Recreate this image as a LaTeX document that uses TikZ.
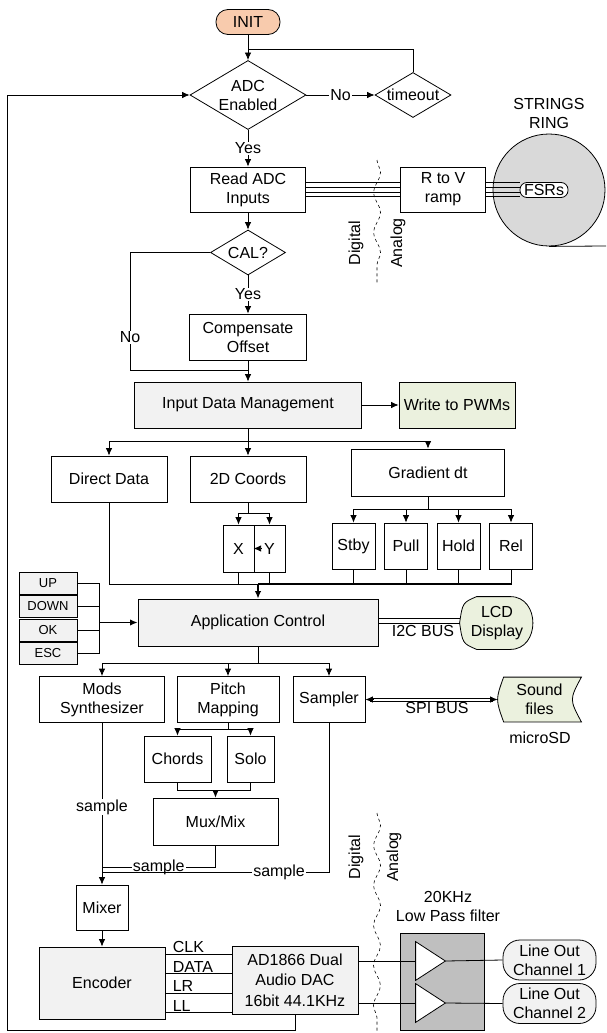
\documentclass[tikz,border=0pt]{standalone}
\usepackage{fontspec}
\setmainfont{Liberation Sans}
\usetikzlibrary{arrows.meta,shapes.geometric,decorations.pathmorphing}
\definecolor{initfill}{HTML}{F8CBAD}
\definecolor{boxgray}{HTML}{F2F2F2}
\definecolor{boxgreen}{HTML}{EBF1DE}
\definecolor{ringgray}{HTML}{D9D9D9}
\definecolor{filtgray}{HTML}{BFBFBF}

\begin{document}
\begin{tikzpicture}[x=1pt,y=-1pt,>={Latex[length=7.5pt,width=6.5pt]},line width=0.8pt,
    font=\fontsize{16}{19}\selectfont,
    box/.style={draw,fill=white,align=center,inner sep=0pt},
    dec/.style={draw,diamond,fill=white,align=center,inner sep=-5pt},
    sq/.style={box,minimum width=43pt,minimum height=46pt},
    btn/.style={box,fill=boxgray,minimum width=58pt,minimum height=22pt,font=\fontsize{13}{15}\selectfont},
    pill/.style={box,fill=boxgray,rounded corners=17pt,minimum width=93pt,minimum height=40pt},
    lbl/.style={fill=white,inner sep=1pt},
    bus/.style={line width=0.6pt},
    bound/.style={dashed,line width=0.6pt,decorate,decoration={snake,amplitude=3.5pt,segment length=40pt}}]
  \useasboundingbox (0,0) rectangle (606,1033);

  \node[box,fill=initfill,rounded corners=12pt,minimum width=64pt,minimum height=25pt] (init) at (248,22) {INIT};
  \node[dec,minimum width=116pt,minimum height=64pt] (adc) at (248,95) {ADC\\Enabled};
  \node[dec,minimum width=76pt,minimum height=45pt] (timeout) [right of=adc,node distance=165pt] {timeout};
  \node[box,minimum width=115pt,minimum height=45pt] (readadc) at (248,189.5) {Read ADC\\Inputs};
  \node[box,minimum width=85pt,minimum height=45pt] (rtov) [right of=readadc,node distance=195pt] {R to V\\ramp};
  \node[circle,draw,fill=ringgray,minimum size=112pt,inner sep=0pt] (ring) at (549,190) {};
  \node[align=center] (ringtxt) at (549,113) {STRINGS\\RING};
  \node[box,rounded corners=7pt,minimum width=48pt,minimum height=15pt] (fsr) at (544,190) {FSRs};
  \node[dec,minimum width=75pt,minimum height=45pt] (cal) at (248,252.5) {CAL?};
  \node[box,minimum width=117pt,minimum height=46pt] (comp) at (248,337) {Compensate\\Offset};
  \node[box,fill=boxgray,minimum width=227pt,minimum height=46pt] (idm) at (248,405) {Input Data Management};
  \node[box,fill=boxgreen,minimum width=116pt,minimum height=46pt] (pwm) [right of=idm,node distance=209pt] {Write to PWMs};
  \node[box,minimum width=116pt,minimum height=46pt] (direct) at (109,479) {Direct Data};
  \node[box,minimum width=116pt,minimum height=46pt] (coords) at (248,479) {2D Coords};
  \node[box,minimum width=153pt,minimum height=47pt] (gradient) at (428,472.5) {Gradient dt};
  \node[box,minimum width=31pt,minimum height=47pt] (xbox) at (238.5,548.5) {X};
  \node[box,minimum width=31pt,minimum height=47pt] (ybox) [right of=xbox,node distance=31pt] {Y};
  \node[sq] (stby) at (353.5,546) {Stby};
  \node[sq] (pull) [right of=stby,node distance=52.5pt] {Pull};
  \node[sq] (hold) [right of=pull,node distance=52.5pt] {Hold};
  \node[sq] (rel) [right of=hold,node distance=52.5pt] {Rel};
  \node[box,fill=boxgray,minimum width=240pt,minimum height=47pt] (ac) at (258,622.5) {Application Control};
  \node[btn] (up) at (48,583) {UP};
  \node[btn] (down) [below of=up,node distance=23.5pt] {DOWN};
  \node[btn] (ok) [below of=down,node distance=23.5pt] {OK};
  \node[btn] (esc) [below of=ok,node distance=23.5pt] {ESC};
  \node[minimum width=74pt,minimum height=52pt,inner sep=0pt] (lcd) at (497,623) {};
  \node[box,minimum width=125pt,minimum height=46pt] (mods) at (102,699.5) {Mods\\Synthesizer};
  \node[box,minimum width=102pt,minimum height=46pt] (pitch) at (228,699.5) {Pitch\\Mapping};
  \node[box,minimum width=72pt,minimum height=46pt] (sampler) at (329,699.5) {Sampler};
  \node[minimum width=83pt,minimum height=44pt,inner sep=0pt] (sound) at (539.5,699.5) {};
  \node (microsd) at (540,738) {microSD};
  \node[box,minimum width=67pt,minimum height=46pt] (chords) at (177.5,759) {Chords};
  \node[box,minimum width=47pt,minimum height=46pt] (solo) at (250.5,759) {Solo};
  \node[box,minimum width=125pt,minimum height=47pt] (mux) at (215.5,821.5) {Mux/Mix};
  \node[box,minimum width=52pt,minimum height=45pt] (mixer) at (102,907.5) {Mixer};
  \node[box,fill=boxgray,minimum width=126pt,minimum height=72pt] (enc) at (102,983) {Encoder};
  \node[box,fill=boxgray,minimum width=126pt,minimum height=68pt,font=\fontsize{16}{20.5}\selectfont] (dac) at (295,980) {AD1866 Dual\\Audio DAC\\16bit 44.1KHz};
  \node[align=center] (filtlbl) at (448,906) {20KHz\\Low Pass filter};
  \node[draw,fill=filtgray,minimum width=84pt,minimum height=97pt] (filter) at (442,981.5) {};
  \node[minimum width=29pt,minimum height=38pt,inner sep=0pt] (amp1) at (430.5,961) {};
  \node[minimum width=29pt,minimum height=38pt,inner sep=0pt] (amp2) [below of=amp1,node distance=42pt] {};
  \node[pill] (lo1) at (549.5,960) {Line Out\\Channel 1};
  \node[pill] (lo2) [below of=lo1,node distance=43.5pt] {Line Out\\Channel 2};
  \node[rotate=90] (dig1) at (356,243) {Digital};
  \node[rotate=90] (ana1) at (398,243) {Analog};
  \node[rotate=90] (dig2) at (356,857) {Digital};
  \node[rotate=90] (ana2) at (394,857) {Analog};
  \node (i2clbl) at (423,631) {I2C BUS};
  \node (spilbl) at (437,708) {SPI BUS};

  \draw[fill=boxgreen] ([xshift=17pt]lcd.north west) -- ([xshift=-24pt]lcd.north east)
    .. controls ([xshift=6pt]lcd.north east) and ([xshift=6pt]lcd.south east) .. ([xshift=-24pt]lcd.south east)
    -- ([xshift=17pt]lcd.south west)
    .. controls ([xshift=3pt,yshift=6pt]lcd.south west) .. (lcd.west)
    .. controls ([xshift=3pt,yshift=-6pt]lcd.north west) .. cycle;
  \node[align=center] at (lcd) {LCD\\Display};
  \draw[fill=boxgreen] ([xshift=6pt]sound.north west) -- (sound.north east)
    .. controls ([xshift=-12pt]sound.east) .. (sound.south east)
    -- ([xshift=6pt]sound.south west)
    .. controls ([xshift=-2pt]sound.west) .. cycle;
  \node[align=center] at (sound) {Sound\\files};
  \draw[fill=white] (amp1.north west) -- (amp1.east) -- (amp1.south west) -- cycle;
  \draw[fill=white] (amp2.north west) -- (amp2.east) -- (amp2.south west) -- cycle;

  \coordinate (tjoin) at (248,49);
  \coordinate (njoin) at (130,370);
  \coordinate (cjoin) at (248,370);
  \coordinate (isplit) at (248,441.5);
  \coordinate (xysplit) at (248,513);
  \coordinate (gsplit) at (428,509);
  \coordinate (acjoin) at (258,584);
  \coordinate (bbus) at (99,622.5);
  \coordinate (asplit) at (258,663);
  \coordinate (psplit) at (228,729);
  \coordinate (mjoin) at (215.5,790);
  \coordinate (mxj) at (102,867);
  \coordinate (spj) at (102,872);
  \coordinate (fbcorner) at (7,1030);
  \coordinate (tapeend) at (606,246);
  \coordinate (wv1a) at (377,160);
  \coordinate (wv1b) at (377,283);
  \coordinate (wv2a) at (377,813);
  \coordinate (wv2b) at (377,1033);
  \coordinate (i2cend) at (ac.east -| lcd.west);
  \coordinate (spiend) at (sampler.east -| sound.west);

  \draw[->] (init) -- (adc);
  \draw[->] (adc) -- node[lbl] {No} (timeout);
  \draw (timeout.north) |- (tjoin);
  \draw[->] (adc) -- node[lbl] {Yes} (readadc);
  \foreach \d in {-7,-2.3,2.3,7}{
    \draw[bus] ([yshift=\d pt]readadc.east) -- ([yshift=\d pt]rtov.west);
    \draw[bus] ([yshift=\d pt]rtov.east) -- ([yshift=\d pt]rtov.east -| fsr.west);
  }
  \draw (ring.south) -- (tapeend);
  \draw[bound] (wv1a) -- (wv1b);
  \draw[->] (readadc) -- (cal);
  \draw[->] (cal) -- node[lbl] {Yes} (comp);
  \draw (cal.west) -| node[lbl,pos=0.86] {No} (njoin) -- (cjoin);
  \draw[->] (comp) -- (idm);
  \draw[->] (idm) -- (pwm);
  \draw[->] (idm) -- (coords);
  \draw[->] (isplit) -| (direct.north);
  \draw[->] (isplit) -| (gradient.north);
  \draw (coords.south) -- (xysplit);
  \draw[->] (xysplit) -| (xbox.north);
  \draw[->] (xysplit) -| (ybox.north);
  \draw[->] ([xshift=7pt]ybox.west) -- (ybox.west);
  \draw (gradient.south) -- (gsplit);
  \foreach \b in {stby,pull,hold,rel}
    \draw[->] (gsplit) -| (\b.north);
  \draw (direct.south) |- (acjoin);
  \foreach \b in {xbox,ybox,stby,pull,hold,rel}
    \draw (\b.south) |- (acjoin);
  \draw[line width=1.4pt] (acjoin) -- (acjoin -| rel.south);
  \draw[->,line width=1.4pt] (acjoin) -- (ac.north);
  \foreach \b in {up,down,ok,esc}
    \draw (\b.east) -| (bbus);
  \draw[->,line width=1.6pt] (bbus) -- (ac.west);
  \foreach \d in {4.5,-0.5}
    \draw[bus] ([yshift=\d pt]ac.east) -- ([yshift=\d pt]i2cend);
  \draw (ac.south) -- (asplit);
  \foreach \b in {mods,pitch,sampler}
    \draw[->] (asplit) -| (\b.north);
  \foreach \d in {1.6,-1.6}
    \draw[bus,shorten <=5pt,shorten >=5pt] ([yshift=\d pt]sampler.east) -- ([yshift=\d pt]spiend);
  \draw[->] ([xshift=7.5pt]sampler.east) -- (sampler.east);
  \draw[->] ([xshift=-7.5pt]spiend) -- (spiend);
  \draw (pitch.south) -- (psplit);
  \draw[->] (psplit) -| (chords.north);
  \draw[->] (psplit) -| (solo.north);
  \draw (chords.south) |- (mjoin);
  \draw (solo.south) |- (mjoin);
  \draw[->] (mjoin) -- (mux.north);
  \draw[->] (mods.south) -- node[lbl,pos=0.52] {sample} (mixer.north);
  \draw (mux.south) |- node[lbl,pos=0.75] {sample} (mxj);
  \draw (sampler.south) |- node[lbl,pos=0.61] {sample} (spj);
  \draw[->] (mixer) -- (enc);
  \foreach \ly/\sig in {954/CLK,973.5/DATA,993/LR,1012.5/LL}{
    \coordinate (lv) at (0,\ly);
    \draw (enc.east |- lv) -- node[at start,anchor=base west,inner sep=0pt,xshift=7pt,yshift=1.5pt] {\sig} (dac.west |- lv);
  }
  \draw (dac.east |- amp1) -- (amp1.west);
  \draw (dac.east |- amp2) -- (amp2.west);
  \draw (amp1.east) -- (lo1.west);
  \draw (amp2.east) -- (lo2.west);
  \draw[bound] (wv2a) -- (wv2b);
  \draw[->] (dac.south) |- (fbcorner) |- (adc.west);
\end{tikzpicture}
\end{document}
